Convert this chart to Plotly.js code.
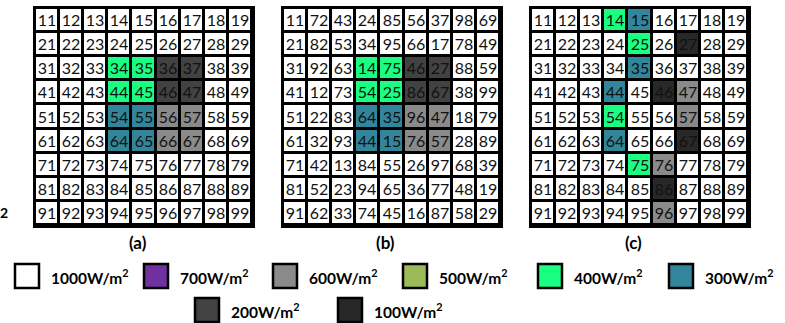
<!DOCTYPE html>
<html>
<head>
<meta charset="utf-8">
<script src="https://cdn.plot.ly/plotly-3.0.1.min.js"></script>
<style>html,body{margin:0;padding:0;background:#fff;}#chart{width:785px;height:323px;}</style>
</head>
<body>
<div id="chart"></div>
<script>
// Irradiance levels and their colours (legend order)
const levels = [1000, 700, 600, 500, 400, 300, 200, 100];
const levelColors = ['#ffffff', '#7030a0', '#8a8a8a', '#9bbb59', '#1aff82', '#31869b', '#424242', '#282828'];
const panelLabels = ['(a)', '(b)', '(c)'];

// Module numbers in each panel
const numbersA = [
  [11,12,13,14,15,16,17,18,19],
  [21,22,23,24,25,26,27,28,29],
  [31,32,33,34,35,36,37,38,39],
  [41,42,43,44,45,46,47,48,49],
  [51,52,53,54,55,56,57,58,59],
  [61,62,63,64,65,66,67,68,69],
  [71,72,73,74,75,76,77,78,79],
  [81,82,83,84,85,86,87,88,89],
  [91,92,93,94,95,96,97,98,99]
];
const numbersB = [
  [11,72,43,24,85,56,37,98,69],
  [21,82,53,34,95,66,17,78,49],
  [31,92,63,14,75,46,27,88,59],
  [41,12,73,54,25,86,67,38,99],
  [51,22,83,64,35,96,47,18,79],
  [61,32,93,44,15,76,57,28,89],
  [71,42,13,84,55,26,97,68,39],
  [81,52,23,94,65,36,77,48,19],
  [91,62,33,74,45,16,87,58,29]
];
const numbersC = [
  [11,12,13,14,15,16,17,18,19],
  [21,22,23,24,25,26,27,28,29],
  [31,32,33,34,35,36,37,38,39],
  [41,42,43,44,45,46,47,48,49],
  [51,52,53,54,55,56,57,58,59],
  [61,62,63,64,65,66,67,68,69],
  [71,72,73,74,75,76,77,78,79],
  [81,82,83,84,85,86,87,88,89],
  [91,92,93,94,95,96,97,98,99]
];

// Irradiance (W/m2) of each cell
const irradA = [
  [1000,1000,1000,1000,1000,1000,1000,1000,1000],
  [1000,1000,1000,1000,1000,1000,1000,1000,1000],
  [1000,1000,1000, 400, 400, 200, 200,1000,1000],
  [1000,1000,1000, 400, 400, 200, 200,1000,1000],
  [1000,1000,1000, 300, 300, 600, 600,1000,1000],
  [1000,1000,1000, 300, 300, 600, 600,1000,1000],
  [1000,1000,1000,1000,1000,1000,1000,1000,1000],
  [1000,1000,1000,1000,1000,1000,1000,1000,1000],
  [1000,1000,1000,1000,1000,1000,1000,1000,1000]
];
const irradB = [
  [1000,1000,1000,1000,1000,1000,1000,1000,1000],
  [1000,1000,1000,1000,1000,1000,1000,1000,1000],
  [1000,1000,1000, 400, 400, 200, 200,1000,1000],
  [1000,1000,1000, 400, 400, 200, 200,1000,1000],
  [1000,1000,1000, 300, 300, 600, 600,1000,1000],
  [1000,1000,1000, 300, 300, 600, 600,1000,1000],
  [1000,1000,1000,1000,1000,1000,1000,1000,1000],
  [1000,1000,1000,1000,1000,1000,1000,1000,1000],
  [1000,1000,1000,1000,1000,1000,1000,1000,1000]
];
const irradC = [
  [1000,1000,1000, 400, 300,1000,1000,1000,1000],
  [1000,1000,1000,1000, 400,1000, 100,1000,1000],
  [1000,1000,1000,1000, 300,1000,1000,1000,1000],
  [1000,1000,1000, 300,1000, 100, 600,1000,1000],
  [1000,1000,1000, 400,1000,1000, 600,1000,1000],
  [1000,1000,1000, 300,1000,1000, 100,1000,1000],
  [1000,1000,1000,1000, 400, 600,1000,1000,1000],
  [1000,1000,1000,1000,1000, 100,1000,1000,1000],
  [1000,1000,1000,1000,1000, 600,1000,1000,1000]
];

// ---- build ----
const W = 785, H = 323;
const FONT = 'Lato, "Open Sans", sans-serif';
const n = levels.length;
const colorscale = [];
levelColors.forEach((c, i) => { colorscale.push([i / n, c]); colorscale.push([(i + 1) / n, c]); });

const panels = [
  {num: numbersA, irr: irradA},
  {num: numbersB, irr: irradB},
  {num: numbersC, irr: irradC}
];
// panel placement (pixels)
const panelLeft = [35, 283, 531], panelSize = 217, panelTop = 8;

const data = [], shapes = [], annotations = [];
const layout = {
  width: W, height: H,
  margin: {l: 0, r: 0, t: 0, b: 0},
  paper_bgcolor: '#fff', plot_bgcolor: '#fff',
  showlegend: false,
  font: {family: FONT, color: '#000'}
};

panels.forEach((p, k) => {
  const ax = k === 0 ? '' : String(k + 1);
  const z = p.irr.map(row => row.map(v => levels.indexOf(v)));
  data.push({
    type: 'heatmap',
    z: z, text: p.num,
    texttemplate: '%{text}',
    textfont: {family: FONT, size: 16, color: '#111'},
    colorscale: colorscale, zmin: -0.5, zmax: n - 0.5,
    showscale: false, xgap: 3, ygap: 3, hoverinfo: 'skip',
    xaxis: 'x' + ax, yaxis: 'y' + ax
  });
  const cols = p.num[0].length, rows = p.num.length;
  const x0 = panelLeft[k] / W, x1 = (panelLeft[k] + panelSize) / W;
  const y1 = 1 - panelTop / H, y0 = 1 - (panelTop + panelSize) / H;
  const axisStyle = {showticklabels: false, showgrid: false, zeroline: false, ticks: '',
    showline: true, mirror: true, linecolor: '#000', linewidth: 2.5, fixedrange: true};
  layout['xaxis' + ax] = Object.assign({domain: [x0, x1], range: [-0.5, cols - 0.5],
    anchor: 'y' + ax}, axisStyle);
  layout['yaxis' + ax] = Object.assign({domain: [y0, y1], range: [rows - 0.5, -0.5],
    anchor: 'x' + ax}, axisStyle);
  shapes.push({type: 'rect', xref: 'x' + ax, yref: 'y' + ax, x0: -0.5, x1: cols - 0.5,
    y0: -0.5, y1: rows - 0.5, fillcolor: '#000', line: {width: 0}, layer: 'below'});
  annotations.push({xref: 'paper', yref: 'paper', x: (x0 + x1) / 2 - 6 / W, y: 1 - 242 / H,
    text: '<b>' + panelLabels[k] + '</b>', showarrow: false,
    font: {family: FONT, size: 17, color: '#000'}, xanchor: 'center', yanchor: 'middle'});
});

// stray superscript fragment at left edge
annotations.push({xref: 'paper', yref: 'paper', x: 4 / W, y: 1 - 212 / H, text: '<b>2</b>',
  showarrow: false, font: {family: FONT, size: 14, color: '#000'}, xanchor: 'center', yanchor: 'middle'});

// legend (two rows)
const legendPos = [[15, 276], [144, 276], [273, 276], [403, 276], [538, 276], [669, 276], [195, 310], [338, 310]];
const box = 24;
levels.forEach((lv, i) => {
  const [lx, cy] = legendPos[i];
  shapes.push({type: 'rect', xref: 'paper', yref: 'paper',
    x0: lx / W, x1: (lx + box) / W, y0: 1 - (cy + box / 2) / H, y1: 1 - (cy - box / 2) / H,
    fillcolor: levelColors[i], line: {color: '#000', width: 2.5}});
  annotations.push({xref: 'paper', yref: 'paper', x: (lx + box + 10) / W, y: 1 - cy / H,
    text: '<b>' + lv + 'W/m<sup>2</sup></b>', showarrow: false,
    font: {family: FONT, size: 15.5, color: '#000'}, xanchor: 'left', yanchor: 'middle'});
});

layout.shapes = shapes;
layout.annotations = annotations;
Plotly.newPlot('chart', data, layout, {staticPlot: true, displayModeBar: false});
</script>
</body>
</html>
